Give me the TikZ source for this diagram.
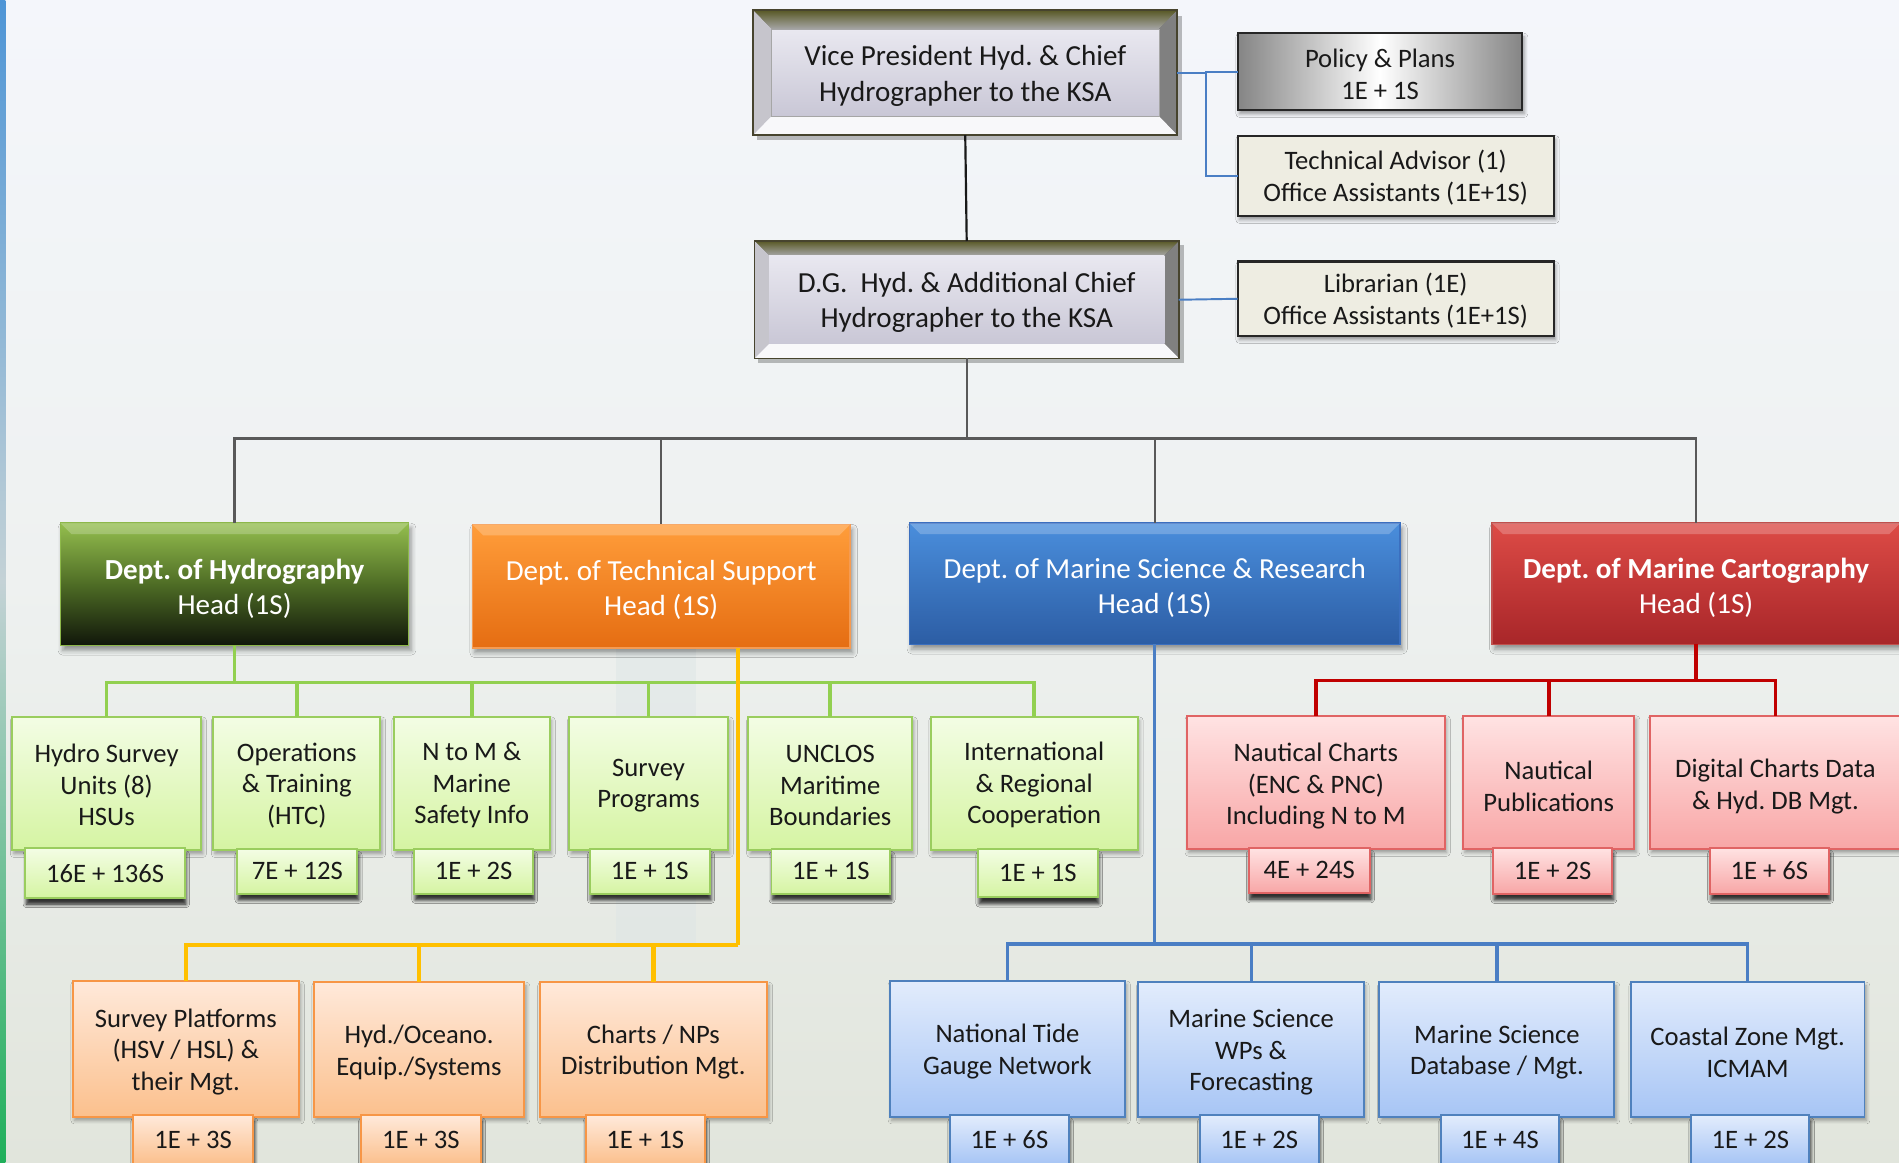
\documentclass[tikz,border=0pt]{standalone}
\usepackage{fontspec}
\setmainfont{Carlito}
\frenchspacing
\usetikzlibrary{shadows.blur,calc}
\newcommand\lowr[1]{\rule{0pt}{#1}}
\definecolor{BgTop}{HTML}{F4F6FB}
\definecolor{BgMid}{HTML}{EEF1F0}
\definecolor{BgBot}{HTML}{E1E5DC}
\definecolor{StTop}{HTML}{4E95D6}
\definecolor{StMid}{HTML}{C4D2D6}
\definecolor{StBot}{HTML}{1FAF5A}
\definecolor{GrnTop}{HTML}{F3FDE4}
\definecolor{GrnBot}{HTML}{D5F4A2}
\definecolor{GrnLine}{HTML}{9ACD5E}
\definecolor{OrgTop}{HTML}{FFE9DA}
\definecolor{OrgBot}{HTML}{FBC08D}
\definecolor{OrgLine}{HTML}{F79646}
\definecolor{BluTop}{HTML}{E2ECFC}
\definecolor{BluBot}{HTML}{A7C5F5}
\definecolor{BluLine}{HTML}{4F81BD}
\definecolor{RedTop}{HTML}{FFE3E3}
\definecolor{RedBot}{HTML}{F8A6A6}
\definecolor{RedLine}{HTML}{E06464}
\definecolor{ConGreen}{HTML}{92D050}
\definecolor{ConOrange}{HTML}{FFC000}
\definecolor{ConBlue}{HTML}{4A7EC4}
\definecolor{ConRed}{HTML}{C00000}
\definecolor{ConGrey}{HTML}{595959}
\definecolor{HydTop}{HTML}{94BE4E}
\definecolor{HydMid}{HTML}{4E6C25}
\definecolor{HydBot}{HTML}{10160A}
\definecolor{HydLine}{HTML}{8DB84A}
\definecolor{TSTop}{HTML}{FF9D3A}
\definecolor{TSBot}{HTML}{E56D12}
\definecolor{TSLine}{HTML}{F59B52}
\definecolor{MSRTop}{HTML}{4A8EDC}
\definecolor{MSRBot}{HTML}{2C5DA4}
\definecolor{MSRLine}{HTML}{3B6FBF}
\definecolor{MCTop}{HTML}{DD4B46}
\definecolor{MCBot}{HTML}{A82629}
\definecolor{MCLine}{HTML}{C0504D}
\definecolor{Lav1}{HTML}{E9E8F0}
\definecolor{Lav2}{HTML}{C9C7D6}
\definecolor{Beige}{HTML}{EEEDE2}
\tikzset{
  boxbase/.style={rectangle, inner sep=0pt, outer sep=0pt, line width=1.6pt, align=center,
    text=black!90, font=\fontsize{22}{26}\selectfont,
    blur shadow={shadow xshift=1.5pt, shadow yshift=-3pt, shadow blur radius=3pt, shadow opacity=35}},
  badgebase/.style={boxbase, blur shadow={shadow xshift=1pt, shadow yshift=-5pt, shadow blur radius=3pt, shadow opacity=55}},
  greenbox/.style={boxbase, draw=GrnLine, top color=GrnTop, bottom color=GrnBot},
  orangebox/.style={boxbase, draw=OrgLine, top color=OrgTop, bottom color=OrgBot},
  bluebox/.style={boxbase, draw=BluLine, top color=BluTop, bottom color=BluBot},
  redbox/.style={boxbase, draw=RedLine, top color=RedTop, bottom color=RedBot},
  greenbadge/.style={badgebase, draw=GrnLine, top color=GrnTop, bottom color=GrnBot},
  orangebadge/.style={badgebase, draw=OrgLine, top color=OrgTop, bottom color=OrgBot},
  bluebadge/.style={badgebase, draw=BluLine, top color=BluTop, bottom color=BluBot},
  redbadge/.style={badgebase, draw=RedLine, top color=RedTop, bottom color=RedBot},
  deptbase/.style={rectangle, inner sep=0pt, outer sep=0pt, line width=1.2pt, align=center,
    text=white, font=\fontsize{24}{29}\selectfont,
    blur shadow={shadow xshift=2pt, shadow yshift=-4pt, shadow blur radius=4pt, shadow opacity=40}},
  sidebox/.style={rectangle, inner sep=0pt, outer sep=0pt, line width=1.8pt, draw=black!85, align=center,
    text=black!90, font=\fontsize{22}{26.5}\selectfont,
    blur shadow={shadow xshift=1.5pt, shadow yshift=-3pt, shadow blur radius=3pt, shadow opacity=40}},
  toptext/.style={rectangle, inner sep=0pt, outer sep=0pt, align=center, text=black!90},
  greyline/.style={draw=ConGrey, line width=2pt},
  greenline/.style={draw=ConGreen, line width=3pt},
  orangeline/.style={draw=ConOrange, line width=3.5pt},
  blueline/.style={draw=ConBlue, line width=2.6pt},
  redline/.style={draw=ConRed, line width=3pt},
  sideline/.style={draw=ConBlue, line width=1.6pt},
  topline/.style={draw=black!90, line width=1.8pt},
}
\begin{document}
\begin{tikzpicture}[x=1pt,y=-1pt]
\useasboundingbox (0,0) rectangle (1568,960);
% background
\fill[top color=BgTop, bottom color=BgBot, middle color=BgMid] (0,0) rectangle (1568,960);
\fill[top color=StTop, bottom color=StBot, middle color=StMid] (0,0) rectangle (4.5,960);
% faint band
\fill[fill=StMid!60!white, opacity=0.45] (509,535) rectangle (575,779);

% ---- VP bevel box ----
\fill[black, opacity=0.25] (625,13) rectangle (976,116);
\fill[top color=Lav1, bottom color=Lav2] (622,8.5) rectangle (972,111.5);
\fill[top color=black!60!olive!50!gray, bottom color=black!35] (622,8.5) -- (972,8.5) -- (957,24) -- (637,24) -- cycle;
\fill[black!50] (972,8.5) -- (972,111.5) -- (957,96) -- (957,24) -- cycle;
\fill[black!15!Lav1] (622,8.5) -- (637,24) -- (637,96) -- (622,111.5) -- cycle;
\fill[white!70!Lav1] (622,111.5) -- (972,111.5) -- (957,96) -- (637,96) -- cycle;
\fill[top color=Lav1, bottom color=Lav2] (637,24) rectangle (957,96);
\draw[black!35, line width=0.8pt] (637,24) rectangle (957,96);
\draw[black!65!olive, line width=1.5pt] (622,8.5) rectangle (972,111.5);
\node[toptext, font=\fontsize{24}{30}\selectfont, minimum width=350, minimum height=103] (vp) at (797,60)
  {\lowr{21.5pt}Vice President Hyd. \& Chief\\Hydrographer to the KSA};

% ---- DG bevel box ----
\fill[black, opacity=0.25] (626,202) rectangle (977.5,300);
\fill[top color=Lav1, bottom color=Lav2] (623,199) rectangle (973.5,296);
\fill[top color=black!60!olive!50!gray, bottom color=black!35] (623,199) -- (973.5,199) -- (961.5,211) -- (635,211) -- cycle;
\fill[black!50] (973.5,199) -- (973.5,296) -- (961.5,284) -- (961.5,211) -- cycle;
\fill[black!15!Lav1] (623,199) -- (635,211) -- (635,284) -- (623,296) -- cycle;
\fill[white!70!Lav1] (623,296) -- (973.5,296) -- (961.5,284) -- (635,284) -- cycle;
\fill[top color=Lav1, bottom color=Lav2] (635,211) rectangle (961.5,284);
\draw[black!65!olive, line width=1.5pt] (623,199) rectangle (973.5,296);
\node[toptext, font=\fontsize{24}{29}\selectfont, minimum width=350, minimum height=97] (dg) at (798.2,247.5)
  {\lowr{21.5pt}D.G.\ \ Hyd. \& Additional Chief\\Hydrographer to the KSA};

% ---- side boxes ----
\node[sidebox, left color=black!48, right color=black!48, middle color=white, minimum width=235, minimum height=63.5] (pp) at (1139.5,59.2)
  {\lowr{19pt}Policy \& Plans\\1E + 1S};
\node[sidebox, fill=Beige, minimum width=261, minimum height=66.4] (ta) at (1152.4,145.2)
  {\lowr{19.5pt}Technical Advisor (1)\\Office Assistants (1E+1S)};
\node[sidebox, fill=Beige, minimum width=261, minimum height=61.5] (lib) at (1152.4,246.7)
  {\lowr{19.5pt}Librarian (1E)\\Office Assistants (1E+1S)};

% ---- departments ----
\node[deptbase, draw=HydLine, top color=HydTop, bottom color=HydBot, middle color=HydMid, minimum width=287.5, minimum height=101] (hyd) at (193.7,482.5)
  {\lowr{23.5pt}\textbf{Dept. of Hydrography}\\Head (1S)};
\node[deptbase, draw=TSLine, top color=TSTop, bottom color=TSBot, minimum width=312, minimum height=102] (ts) at (546,484)
  {\lowr{23.5pt}Dept. of Technical Support\\Head (1S)};
\node[deptbase, draw=MSRLine, top color=MSRTop, bottom color=MSRBot, minimum width=405, minimum height=100] (msr) at (953.5,482)
  {\lowr{23.5pt}Dept. of Marine Science \& Research\\Head (1S)};
\node[deptbase, draw=MCLine, top color=MCTop, bottom color=MCBot, minimum width=337, minimum height=100] (mc) at (1400.5,482)
  {\lowr{23.5pt}\textbf{Dept. of Marine Cartography}\\Head (1S)};
\foreach \d in {hyd,ts,msr,mc}{
  \fill[white, opacity=0.22] (\d.north west) -- (\d.north east) -- ([xshift=-9pt,yshift=-9pt]\d.north east) -- ([xshift=9pt,yshift=-9pt]\d.north west) -- cycle;
}

% ---- green units ----
\node[greenbox, minimum width=156, minimum height=110] (g1) at (88,647) {\lowr{18pt}Hydro Survey\\Units (8)\\HSUs};
\node[greenbox, minimum width=138, minimum height=110] (g2) at (245,647) {\lowr{18pt}Operations\\\& Training\\(HTC)};
\node[greenbox, minimum width=129, minimum height=110] (g3) at (389.5,647) {\lowr{18pt}N to M \&\\Marine\\Safety Info};
\node[greenbox, minimum width=131, minimum height=110] (g4) at (535.5,647) {\lowr{18pt}Survey\\Programs};
\node[greenbox, minimum width=135, minimum height=110] (g5) at (685.5,647) {\lowr{18pt}UNCLOS\\Maritime\\Boundaries};
\node[greenbox, minimum width=171, minimum height=110] (g6) at (853.9,647) {\lowr{18pt}International\\\& Regional\\Cooperation};
\node[greenbadge, minimum width=131.5, minimum height=41] (g1b) at (86.75,721) {16E + 136S};
\node[greenbadge, minimum width=99, minimum height=37] (g2b) at (245.5,719.5) {7E + 12S};
\node[greenbadge, minimum width=98, minimum height=37] (g3b) at (391,719.5) {1E + 2S};
\node[greenbadge, minimum width=99, minimum height=37] (g4b) at (536.5,719.5) {1E + 1S};
\node[greenbadge, minimum width=98, minimum height=37] (g5b) at (686,719.5) {1E + 1S};
\node[greenbadge, minimum width=98.5, minimum height=40] (g6b) at (857,721) {1E + 1S};

% ---- red units ----
\node[redbox, minimum width=213, minimum height=110] (r1) at (1086.5,646) {\lowr{22pt}Nautical Charts\\(ENC \& PNC)\\Including N to M};
\node[redbox, minimum width=141.5, minimum height=110] (r2) at (1278.75,646) {\lowr{22pt}Nautical\\Publications};
\node[redbox, minimum width=208, minimum height=110] (r3) at (1466,646) {\lowr{22pt}Digital Charts Data\\\& Hyd. DB Mgt.};
\node[redbadge, minimum width=100, minimum height=37.5] (r1b) at (1081,718.7) {4E + 24S};
\node[redbadge, minimum width=98, minimum height=38] (r2b) at (1282,719) {1E + 2S};
\node[redbadge, minimum width=98, minimum height=38] (r3b) at (1461,719) {1E + 6S};

% ---- orange units ----
\node[orangebox, minimum width=186.7, minimum height=112] (o1) at (153.4,866) {\lowr{20pt}Survey Platforms\\(HSV / HSL) \&\\their Mgt.};
\node[orangebox, minimum width=174, minimum height=111] (o2) at (346,866.5) {\lowr{20pt}Hyd./Oceano.\\Equip./Systems};
\node[orangebox, minimum width=188, minimum height=111] (o3) at (539.5,866.5) {\lowr{20pt}Charts / NPs\\Distribution Mgt.};
\node[orangebadge, minimum width=99, minimum height=40] (o1b) at (159.5,941) {1E + 3S};
\node[orangebadge, minimum width=99, minimum height=40] (o2b) at (347.5,941) {1E + 3S};
\node[orangebadge, minimum width=98.5, minimum height=40] (o3b) at (532.75,941) {1E + 1S};

% ---- blue units ----
\node[bluebox, minimum width=194, minimum height=112] (b1) at (831.85,866) {\lowr{20pt}National Tide\\Gauge Network};
\node[bluebox, minimum width=186, minimum height=111] (b2) at (1033,866.5) {\lowr{20pt}Marine Science\\WPs \&\\Forecasting};
\node[bluebox, minimum width=194, minimum height=111] (b3) at (1236,866.5) {\lowr{20pt}Marine Science\\Database / Mgt.};
\node[bluebox, minimum width=193, minimum height=111] (b4) at (1443,866.5) {\lowr{20pt}Coastal Zone Mgt.\\ICMAM};
\node[bluebadge, minimum width=97.7, minimum height=40] (b1b) at (833.5,941) {1E + 6S};
\node[bluebadge, minimum width=98, minimum height=40] (b2b) at (1039.75,941) {1E + 2S};
\node[bluebadge, minimum width=97, minimum height=40] (b3b) at (1238.5,941) {1E + 4S};
\node[bluebadge, minimum width=97.5, minimum height=40] (b4b) at (1445.25,941) {1E + 2S};

% ---- connectors ----
\draw[topline] (vp.south) -- (dg.north);
\draw[sideline] (vp.east) -- ++(24,0) coordinate (sj);
\draw[sideline] (sj) |- (pp.west);
\draw[sideline] (sj) |- (ta.west);
\draw[sideline] (dg.east) -- (lib.west);

\draw[greyline] (dg.south) -- ++(0,66) coordinate (mj);
\foreach \d in {hyd,ts,msr,mc}{\draw[greyline] (mj) -| (\d.north);}

\draw[greenline] (hyd.south) -- ++(0,30.5) coordinate (gj);
\foreach \u in {g1,g2,g3,g4,g5,g6}{\draw[greenline] (gj) -| (\u.north);}

\coordinate (tsout) at ([xshift=63.5pt]ts.south);
\draw[orangeline] (tsout) -- ++(0,245) coordinate (oj);
\foreach \u in {o1,o2,o3}{\draw[orangeline] (oj) -| (\u.north);}

\draw[blueline] (msr.south) -- ++(0,247.5) coordinate (bj);
\foreach \u in {b1,b2,b3,b4}{\draw[blueline] (bj) -| (\u.north);}

\draw[redline] (mc.south) -- ++(0,30) coordinate (rj);
\foreach \u in {r1,r2,r3}{\draw[redline] (rj) -| (\u.north);}
\end{tikzpicture}
\end{document}
